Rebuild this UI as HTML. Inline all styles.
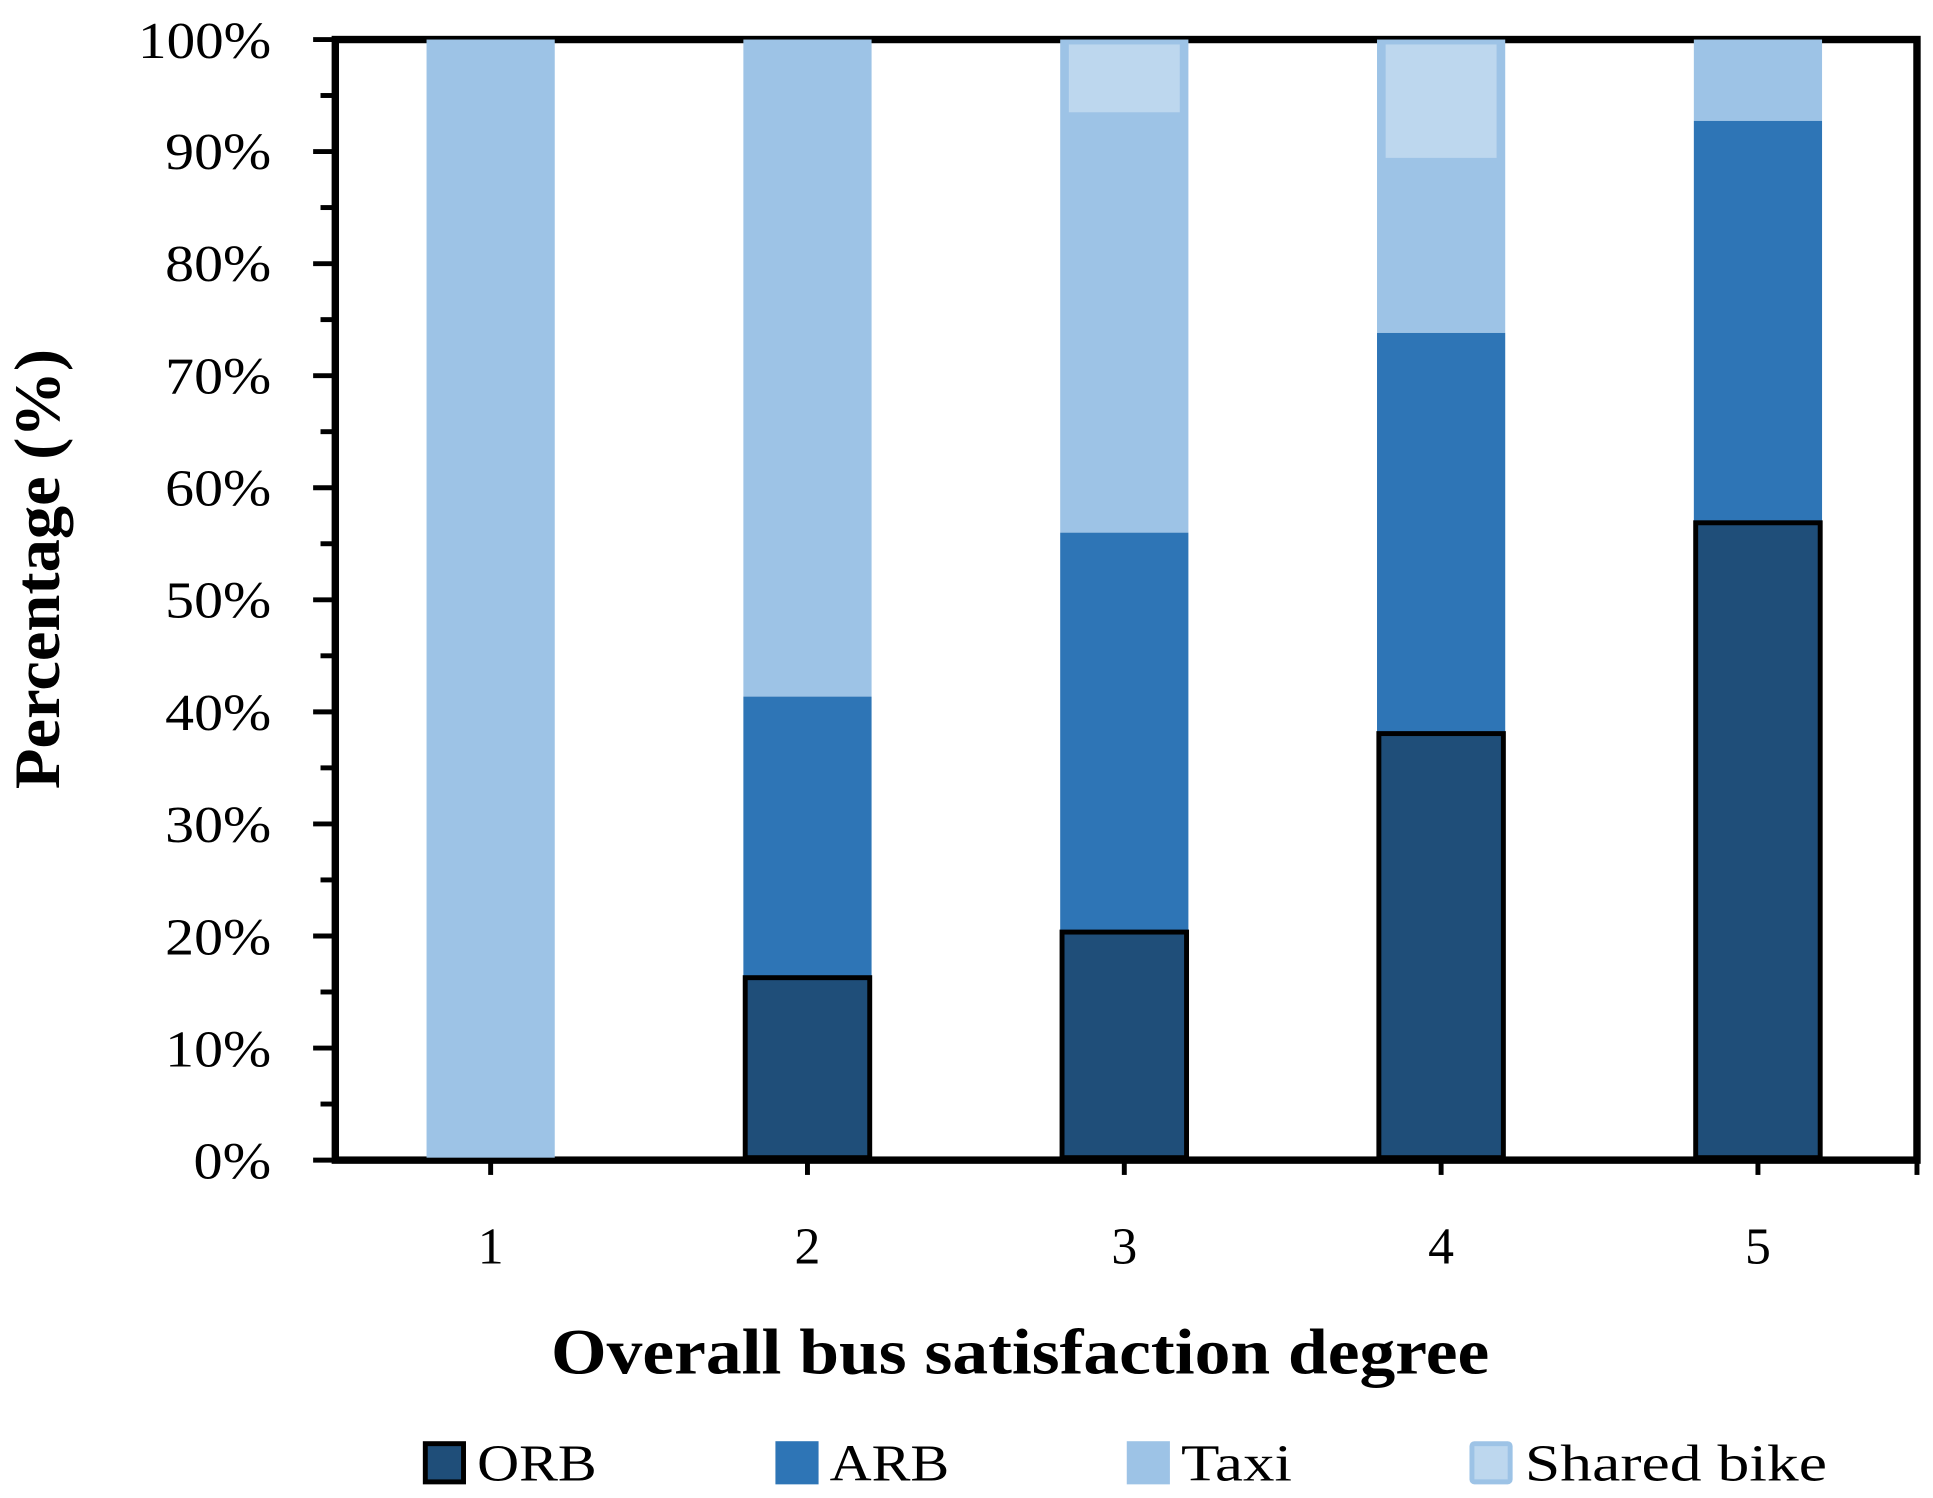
<!DOCTYPE html>
<html><head><meta charset="utf-8"><style>html,body{margin:0;padding:0;background:#fff}svg{display:block}</style></head>
<body>
<svg width="1933" height="1498" viewBox="0 0 1568 1215" xmlns="http://www.w3.org/2000/svg" font-family="'Liberation Serif', serif">
<rect width="1568" height="1215" fill="#fff"/>
<rect x="272" y="32" width="1283" height="909" fill="none" stroke="#000" stroke-width="6"/>
<g stroke="#000" stroke-width="4">
<line x1="254" y1="941" x2="272" y2="941"/><line x1="260" y1="895.5" x2="272" y2="895.5"/>
<line x1="254" y1="850.1" x2="272" y2="850.1"/><line x1="260" y1="804.6" x2="272" y2="804.6"/>
<line x1="254" y1="759.2" x2="272" y2="759.2"/><line x1="260" y1="713.7" x2="272" y2="713.7"/>
<line x1="254" y1="668.3" x2="272" y2="668.3"/><line x1="260" y1="622.8" x2="272" y2="622.8"/>
<line x1="254" y1="577.4" x2="272" y2="577.4"/><line x1="260" y1="531.9" x2="272" y2="531.9"/>
<line x1="254" y1="486.5" x2="272" y2="486.5"/><line x1="260" y1="441" x2="272" y2="441"/>
<line x1="254" y1="395.6" x2="272" y2="395.6"/><line x1="260" y1="350.1" x2="272" y2="350.1"/>
<line x1="254" y1="304.7" x2="272" y2="304.7"/><line x1="260" y1="259.2" x2="272" y2="259.2"/>
<line x1="254" y1="213.8" x2="272" y2="213.8"/><line x1="260" y1="168.3" x2="272" y2="168.3"/>
<line x1="254" y1="122.9" x2="272" y2="122.9"/><line x1="260" y1="77.4" x2="272" y2="77.4"/>
<line x1="254" y1="32" x2="272" y2="32"/>
<line x1="398" y1="941" x2="398" y2="953"/><line x1="655" y1="941" x2="655" y2="953"/>
<line x1="912" y1="941" x2="912" y2="953"/><line x1="1169" y1="941" x2="1169" y2="953"/>
<line x1="1426" y1="941" x2="1426" y2="953"/><line x1="1555" y1="941" x2="1555" y2="953"/>
</g>
<g font-size="42" fill="#000" lengthAdjust="spacingAndGlyphs">
<text x="157" y="956" textLength="63" lengthAdjust="spacingAndGlyphs">0%</text><text x="134" y="865" textLength="86" lengthAdjust="spacingAndGlyphs">10%</text><text x="134" y="774" textLength="86" lengthAdjust="spacingAndGlyphs">20%</text>
<text x="134" y="683" textLength="86" lengthAdjust="spacingAndGlyphs">30%</text><text x="134" y="592" textLength="86" lengthAdjust="spacingAndGlyphs">40%</text><text x="134" y="501" textLength="86" lengthAdjust="spacingAndGlyphs">50%</text>
<text x="134" y="410" textLength="86" lengthAdjust="spacingAndGlyphs">60%</text><text x="134" y="319" textLength="86" lengthAdjust="spacingAndGlyphs">70%</text><text x="134" y="228" textLength="86" lengthAdjust="spacingAndGlyphs">80%</text>
<text x="134" y="137" textLength="86" lengthAdjust="spacingAndGlyphs">90%</text><text x="112" y="47" textLength="108" lengthAdjust="spacingAndGlyphs">100%</text>
</g>
<rect x="346" y="32" width="104" height="907" fill="#9DC3E6"/>
<rect x="603" y="32" width="104" height="533" fill="#9DC3E6"/>
<rect x="603" y="565" width="104" height="228" fill="#2E75B6"/>
<rect x="604.5" y="793" width="101" height="146" fill="#1F4E79" stroke="#000" stroke-width="4"/>
<rect x="860" y="32" width="104" height="400" fill="#9DC3E6"/>
<rect x="867" y="36" width="90" height="55" fill="#BDD7EE"/>
<rect x="860" y="432" width="104" height="324" fill="#2E75B6"/>
<rect x="861.5" y="756" width="101" height="183" fill="#1F4E79" stroke="#000" stroke-width="4"/>
<rect x="1117" y="32" width="104" height="238" fill="#9DC3E6"/>
<rect x="1124" y="36" width="90" height="92" fill="#BDD7EE"/>
<rect x="1117" y="270" width="104" height="325" fill="#2E75B6"/>
<rect x="1118.5" y="595" width="101" height="344" fill="#1F4E79" stroke="#000" stroke-width="4"/>
<rect x="1374" y="32" width="104" height="66" fill="#9DC3E6"/>
<rect x="1374" y="98" width="104" height="326" fill="#2E75B6"/>
<rect x="1375.5" y="424" width="101" height="515" fill="#1F4E79" stroke="#000" stroke-width="4"/>
<g font-size="42" text-anchor="middle" fill="#000">
<text x="398" y="1025">1</text><text x="655" y="1025">2</text><text x="912" y="1025">3</text>
<text x="1169" y="1025">4</text><text x="1426" y="1025">5</text>
</g>
<text x="447" y="1114" font-size="52" font-weight="bold" textLength="761" lengthAdjust="spacingAndGlyphs">Overall bus satisfaction degree</text>
<text transform="translate(48,640) rotate(-90)" font-size="52" font-weight="bold" textLength="357" lengthAdjust="spacingAndGlyphs">Percentage (%)</text>
<rect x="345" y="1171" width="31" height="31" fill="#1F4E79" stroke="#000" stroke-width="4"/>
<text x="387" y="1201" font-size="42" textLength="97" lengthAdjust="spacingAndGlyphs">ORB</text>
<rect x="629" y="1169" width="35" height="35" fill="#2E75B6"/>
<text x="673" y="1201" font-size="42" textLength="97" lengthAdjust="spacingAndGlyphs">ARB</text>
<rect x="914" y="1169" width="35" height="35" fill="#9DC3E6"/>
<text x="958" y="1201" font-size="42" textLength="90" lengthAdjust="spacingAndGlyphs">Taxi</text>
<rect x="1194" y="1171" width="31" height="31" fill="#BDD7EE" stroke="#9DC3E6" stroke-width="4" rx="2"/>
<text x="1237" y="1201" font-size="42" textLength="245" lengthAdjust="spacingAndGlyphs">Shared bike</text>
</svg>
</body></html>
